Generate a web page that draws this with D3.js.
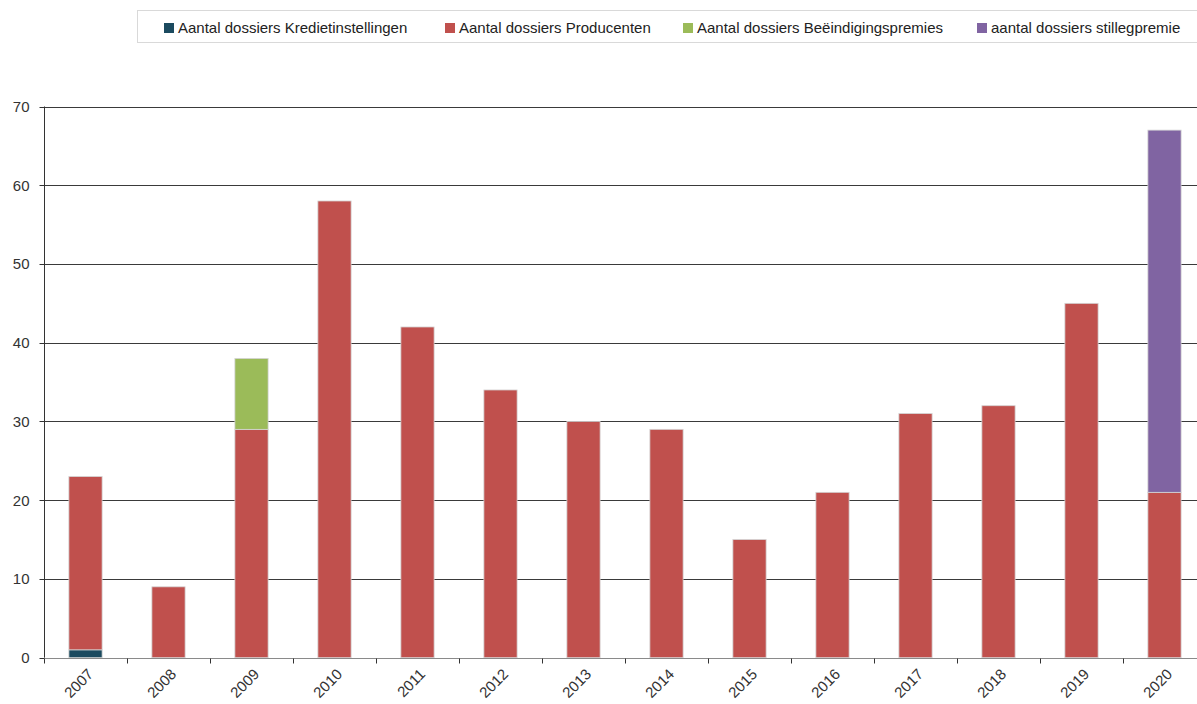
<!DOCTYPE html>
<html>
<head>
<meta charset="utf-8">
<script src="https://cdn.jsdelivr.net/npm/d3@7"></script>
<style>
  body { margin: 0; background: #fff; }
  svg { display: block; font-family: "Liberation Sans", Arial, sans-serif; }
</style>
</head>
<body>
<svg id="chart" width="1197" height="704"></svg>
<script>
var years = ["2007", "2008", "2009", "2010", "2011", "2012", "2013", "2014", "2015", "2016", "2017", "2018", "2019", "2020"];
var kredietinstellingen = [1, 0, 0, 0, 0, 0, 0, 0, 0, 0, 0, 0, 0, 0];
var producenten = [22, 9, 29, 58, 42, 34, 30, 29, 15, 21, 31, 32, 45, 21];
var beeindigingspremies = [0, 0, 9, 0, 0, 0, 0, 0, 0, 0, 0, 0, 0, 0];
var stillegpremie = [0, 0, 0, 0, 0, 0, 0, 0, 0, 0, 0, 0, 0, 46];
var seriesNames = ["Aantal dossiers Kredietinstellingen", "Aantal dossiers Producenten", "Aantal dossiers Beëindigingspremies", "aantal dossiers stillegpremie"];
var seriesColors = ["#1b4a5f", "#c0504d", "#9bbb59", "#8064a2"];
var yTicks = [0, 10, 20, 30, 40, 50, 60, 70];

var svg = d3.select("#chart");
var plotLeft = 44, plotRight = 1206, plotTop = 106.5, plotBottom = 657.7;

// build rows for the stack
var keys = ["k", "p", "b", "s"];
var rows = years.map(function (yr, i) {
  return { year: yr, k: kredietinstellingen[i], p: producenten[i], b: beeindigingspremies[i], s: stillegpremie[i] };
});
var stacked = d3.stack().keys(keys)(rows);

var x = d3.scaleBand().domain(years).range([plotLeft, plotRight]).paddingInner(0.6).paddingOuter(0.3);
var y = d3.scaleLinear().domain([0, 70]).range([plotBottom, plotTop]);

// gridlines
svg.append("g")
  .selectAll("line")
  .data(yTicks.filter(function (d) { return d > 0; }))
  .enter()
  .append("line")
  .attr("x1", plotLeft).attr("x2", plotRight)
  .attr("y1", function (d) { return Math.round(y(d)) + 0.5; })
  .attr("y2", function (d) { return Math.round(y(d)) + 0.5; })
  .style("stroke", "#3a3a3a")
  .style("stroke-width", 1);

// bars
var layer = svg.append("g")
  .selectAll("g")
  .data(stacked)
  .enter()
  .append("g")
  .style("fill", function (d, i) { return seriesColors[i]; });

layer.selectAll("rect")
  .data(function (d) { return d.filter(function (e) { return e[1] - e[0] > 0; }); })
  .enter()
  .append("rect")
  .attr("x", function (d) { return x(d.data.year); })
  .attr("width", x.bandwidth())
  .attr("y", function (d) { return y(d[1]); })
  .attr("height", function (d) { return y(d[0]) - y(d[1]); })
  .style("stroke", "#d4d4d4")
  .style("stroke-width", 0.8);

// y axis
var yAxis = svg.append("g").attr("transform", "translate(" + (plotLeft + 0.5) + ",0)");
yAxis.append("line")
  .attr("x1", 0).attr("x2", 0).attr("y1", y(70)).attr("y2", y(0))
  .style("stroke", "#333");
yAxis.selectAll(".tick")
  .data(yTicks)
  .enter()
  .append("line")
  .attr("x1", -5).attr("x2", 0)
  .attr("y1", function (d) { return Math.round(y(d)) + 0.5; })
  .attr("y2", function (d) { return Math.round(y(d)) + 0.5; })
  .style("stroke", "#333");
yAxis.selectAll("text")
  .data(yTicks)
  .enter()
  .append("text")
  .attr("x", -15)
  .attr("y", function (d) { return y(d); })
  .attr("dy", "0.36em")
  .attr("text-anchor", "end")
  .style("font-size", "15px")
  .style("fill", "#333")
  .text(function (d) { return d; });

// x axis
var xAxis = svg.append("g").attr("transform", "translate(0," + (Math.round(y(0)) + 0.5) + ")");
xAxis.append("line")
  .attr("x1", plotLeft).attr("x2", plotRight)
  .style("stroke", "#8a8a8a").style("stroke-width", 1.2);
xAxis.selectAll(".tk")
  .data(d3.range(years.length + 1))
  .enter()
  .append("line")
  .attr("x1", function (i) { return Math.round(plotLeft + i * x.step()) + 0.5; })
  .attr("x2", function (i) { return Math.round(plotLeft + i * x.step()) + 0.5; })
  .attr("y1", 0).attr("y2", 5)
  .style("stroke", "#333");
xAxis.selectAll("text")
  .data(years)
  .enter()
  .append("text")
  .attr("transform", function (d) {
    return "translate(" + (x(d) + x.bandwidth() / 2 + 5) + ",13) rotate(-45)";
  })
  .attr("text-anchor", "end")
  .attr("dy", "0.35em")
  .style("font-size", "15px")
  .style("fill", "#333")
  .text(function (d) { return d; });

// legend
var legend = svg.append("g");
legend.append("rect")
  .attr("x", 137.5).attr("y", 10.5)
  .attr("width", 1080).attr("height", 32)
  .style("fill", "#fff")
  .style("stroke", "#d9d9d9");
var legendX = [164, 445, 683, 977];
var item = legend.selectAll(".item")
  .data(seriesNames)
  .enter()
  .append("g")
  .attr("transform", function (d, i) { return "translate(" + legendX[i] + ",0)"; });
item.append("rect")
  .attr("x", 0).attr("y", 23)
  .attr("width", 10).attr("height", 10)
  .style("fill", function (d, i) { return seriesColors[i]; });
item.append("text")
  .attr("x", 14).attr("y", 33)
  .style("font-size", "15px")
  .style("fill", "#222")
  .text(function (d) { return d; });
</script>
</body>
</html>
